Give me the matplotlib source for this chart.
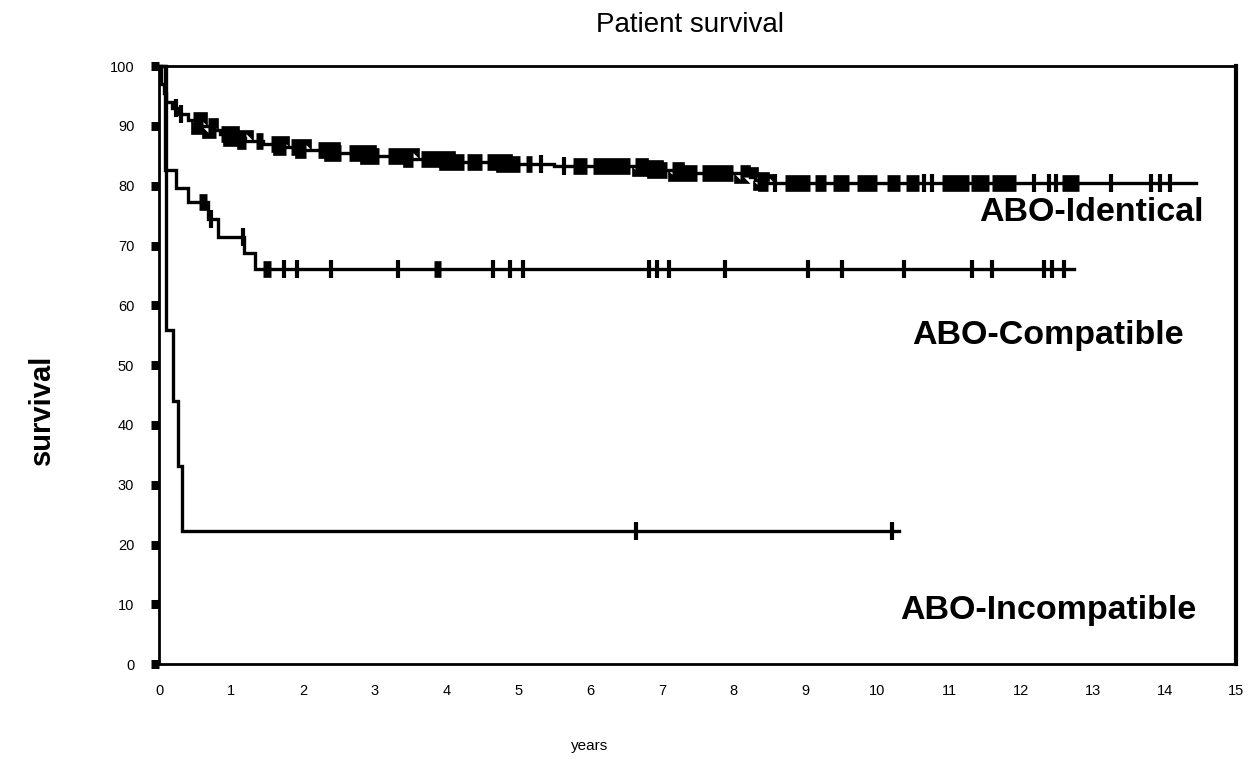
import numpy as np
import matplotlib.pyplot as plt

plt.rcParams['font.family'] = ['Liberation Sans', 'DejaVu Sans']

# step curves: time (years) of each step, survival (%) after the step
ident_t = [0, 0.03, 0.06, 0.10, 0.18, 0.28, 0.40, 0.55, 0.70, 0.85, 1.00, 1.20, 1.45,
           1.70, 2.00, 2.40, 2.90, 3.50, 4.00, 4.80, 5.50, 6.70, 6.90, 7.20, 8.12,
           8.22, 8.30, 8.38, 8.45]
ident_s = [100, 97, 95.5, 94, 93, 92, 91, 90, 89.3, 88.6, 88, 87.5, 87,
           86.5, 86, 85.5, 85, 84.5, 84, 83.6, 83.3, 83.0, 82.6, 82.2, 81.8,
           81.4, 81.0, 80.7, 80.4]
ident_end = 14.43
ident_ticks = [0.24, 0.30, 5.31, 5.63, 8.58, 10.65, 10.76, 12.18, 12.39, 12.49,
               13.25, 13.81, 13.94, 14.08]
ident_blocks = [(0.47, 0.61), (0.68, 0.79), (0.86, 1.21), (1.35, 1.44), (1.56, 1.76),
                (1.83, 2.04), (2.21, 2.53), (2.64, 3.06), (3.18, 3.54), (3.64, 4.24),
                (4.29, 4.50), (4.57, 5.03), (5.10, 5.19), (5.76, 5.96), (6.04, 6.56),
                (6.63, 7.07), (7.14, 7.49), (7.56, 7.99), (8.08, 8.22), (8.32, 8.47),
                (8.71, 9.06), (9.13, 9.29), (9.38, 9.61), (9.71, 9.99), (10.13, 10.31),
                (10.40, 10.58), (10.90, 11.27), (11.31, 11.55), (11.59, 11.93),
                (12.57, 12.81)]

compat_t = [0, 0.08, 0.24, 0.40, 0.68, 0.82, 1.18, 1.33]
compat_s = [100, 82.6, 79.7, 77.2, 74.5, 71.5, 68.8, 66.0]
compat_end = 12.74
compat_ticks = [0.72, 1.16, 1.74, 1.92, 2.39, 3.32, 4.65, 4.89, 5.07, 6.82, 6.93, 7.10,
                7.875, 9.04, 9.51, 10.375, 11.32, 11.60, 12.32, 12.43, 12.60]
compat_blocks = [(0.56, 0.67), (1.45, 1.55), (3.82, 3.93)]

incomp_t = [0, 0.09, 0.19, 0.26, 0.31]
incomp_s = [100, 55.8, 44.0, 33.2, 22.3]
incomp_end = 10.3
incomp_ticks = [6.64, 10.2]

labels = ['ABO-Identical', 'ABO-Compatible', 'ABO-Incompatible']
label_x = [14.54, 14.26, 14.44]
label_y = [75.6, 55.0, 9.0]


def surv_at(ts, ss, t):
    i = np.searchsorted(ts, t, side='right') - 1
    return np.asarray(ss)[i]


def draw_curve(ax, ts, ss, end, ticks, blocks=()):
    xs = list(ts) + [end]
    ys = list(ss) + [ss[-1]]
    ax.plot(xs, ys, drawstyle='steps-post', color='black', lw=2.4,
            solid_joinstyle='miter', clip_on=False, zorder=3)
    ax.plot(ticks, surv_at(ts, ss, ticks), ls='none', marker='|', ms=12.5,
            mew=3, color='black', zorder=4, clip_on=False)
    for a, b in blocks:
        inner = [t for t in ts if a < t < b]
        bx = [a] + inner + [b]
        by = list(surv_at(ts, ss, bx))
        ax.plot(bx, by, drawstyle='steps-post', color='black', lw=12,
                solid_capstyle='butt', solid_joinstyle='miter', zorder=4)


fig = plt.figure(figsize=(12.54, 7.6), dpi=100)
ax = fig.add_axes([0.127, 0.126, 0.859, 0.787])

draw_curve(ax, ident_t, ident_s, ident_end, ident_ticks, ident_blocks)
draw_curve(ax, compat_t, compat_s, compat_end, compat_ticks, compat_blocks)
draw_curve(ax, incomp_t, incomp_s, incomp_end, incomp_ticks)

for txt, lx, ly in zip(labels, label_x, label_y):
    ax.text(lx, ly, txt, ha='right', va='center', fontsize=24.5, fontweight='bold')

ax.set_xlim(0, 15)
ax.set_ylim(0, 100)
ax.set_xticks(range(0, 16))
ax.set_yticks(range(0, 101, 10))
ax.tick_params(axis='x', length=0, pad=14, labelsize=10.5)
ax.tick_params(axis='y', length=6, width=6.5, direction='out', pad=12, labelsize=10.5)
for side in ['left', 'bottom', 'top']:
    ax.spines[side].set_linewidth(2)
ax.spines['right'].set_linewidth(3)

fig.text(690 / 1254, 1 - 25 / 760, 'Patient survival', ha='center', va='center', fontsize=20)
fig.text(42 / 1254, 1 - 410 / 760, 'survival', ha='center', va='center', rotation=90,
         fontsize=21, fontweight='bold')
fig.text(590 / 1254, 1 - 746 / 760, 'years', ha='center', va='center', fontsize=11)

fig.savefig('out.png', dpi=100)
